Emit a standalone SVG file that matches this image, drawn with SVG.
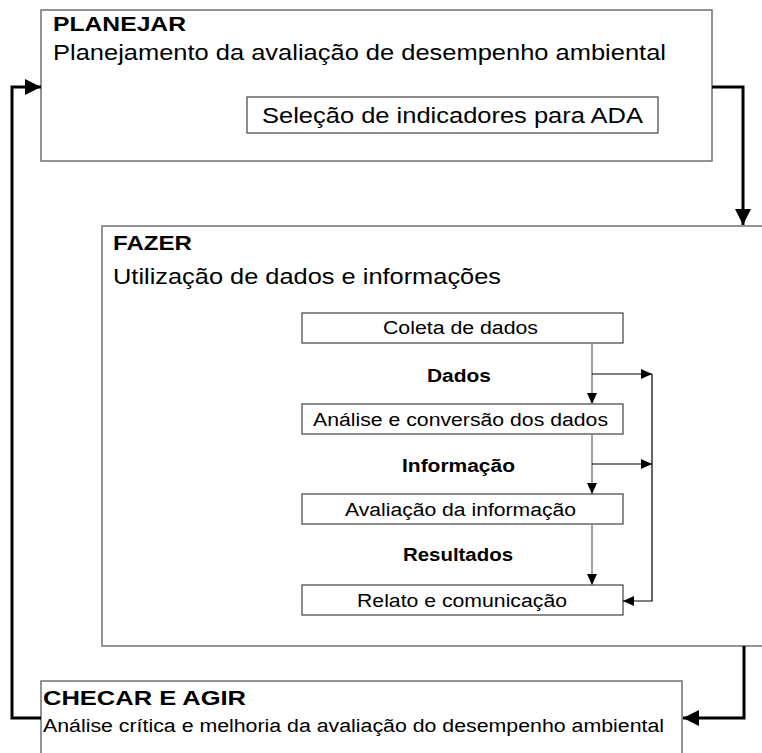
<svg xmlns="http://www.w3.org/2000/svg" width="762" height="753" viewBox="0 0 762 753">
<defs>
<style>
.box{fill:#fff;stroke:#707070;stroke-width:1.5}
.ibox{fill:#fff;stroke:#505050;stroke-width:1.3}
.t{font-family:"Liberation Sans",Arial,sans-serif;fill:#000}
.b{font-weight:bold}
.big{fill:none;stroke:#000;stroke-width:3}
.flow{fill:none;stroke:#808080;stroke-width:1.5}
.side{fill:none;stroke:#000;stroke-width:1.2}
</style>
<marker id="bh" markerUnits="userSpaceOnUse" markerWidth="16" markerHeight="16" viewBox="0 0 16 16" refX="16" refY="8" orient="auto"><path d="M0,0 L16,8 L0,16 Z" fill="#000"/></marker>
<marker id="sh" markerUnits="userSpaceOnUse" markerWidth="11" markerHeight="10" viewBox="0 0 11 10" refX="11" refY="5" orient="auto"><path d="M0,0 L11,5 L0,10 Z" fill="#000"/></marker>
</defs>
<g id="planejar">
<rect class="box" x="41" y="10" width="671" height="151"/>
<text class="t b" x="53" y="31" font-size="21" textLength="133" lengthAdjust="spacingAndGlyphs">PLANEJAR</text>
<text class="t" x="53" y="60" font-size="22" textLength="613" lengthAdjust="spacingAndGlyphs">Planejamento da avaliação de desempenho ambiental</text>
</g>
<g id="selecao">
<rect class="ibox" x="247" y="97" width="411" height="36"/>
<text class="t" x="262" y="123" font-size="22" textLength="381" lengthAdjust="spacingAndGlyphs">Seleção de indicadores para ADA</text>
</g>
<g id="fazer">
<rect class="box" x="102" y="226" width="700" height="420"/>
<text class="t b" x="113" y="250" font-size="21" textLength="79" lengthAdjust="spacingAndGlyphs">FAZER</text>
<text class="t" x="113" y="284" font-size="22" textLength="388" lengthAdjust="spacingAndGlyphs">Utilização de dados e informações</text>
</g>
<g id="coleta">
<rect class="ibox" x="302" y="313" width="321" height="30"/>
<text class="t" x="383" y="334" font-size="18" textLength="155" lengthAdjust="spacingAndGlyphs">Coleta de dados</text>
</g>
<g id="analise">
<rect class="ibox" x="302" y="404" width="321" height="30"/>
<text class="t" x="313" y="425.5" font-size="18" textLength="295" lengthAdjust="spacingAndGlyphs">Análise e conversão dos dados</text>
</g>
<g id="avaliacao">
<rect class="ibox" x="302" y="494" width="321" height="30"/>
<text class="t" x="345" y="515.5" font-size="18" textLength="231" lengthAdjust="spacingAndGlyphs">Avaliação da informação</text>
</g>
<g id="relato">
<rect class="ibox" x="302" y="585" width="321" height="30"/>
<text class="t" x="357" y="606.5" font-size="18" textLength="210" lengthAdjust="spacingAndGlyphs">Relato e comunicação</text>
</g>
<g id="checar">
<rect class="box" x="41" y="681" width="641" height="100"/>
<text class="t b" x="43" y="705" font-size="21" textLength="203" lengthAdjust="spacingAndGlyphs">CHECAR E AGIR</text>
<text class="t" x="43" y="732" font-size="18" textLength="621" lengthAdjust="spacingAndGlyphs">Análise crítica e melhoria da avaliação do desempenho ambiental</text>
</g>
<g id="labels">
<text class="t b" x="427" y="381.5" font-size="18" textLength="64" lengthAdjust="spacingAndGlyphs">Dados</text>
<text class="t b" x="402" y="471.5" font-size="18" textLength="113" lengthAdjust="spacingAndGlyphs">Informação</text>
<text class="t b" x="403" y="560.5" font-size="18" textLength="110" lengthAdjust="spacingAndGlyphs">Resultados</text>
</g>
<g id="connectors">
<path class="big" d="M712,87 H743 V225" marker-end="url(#bh)"/>
<path class="big" d="M744,646 V718 H683" marker-end="url(#bh)"/>
<path class="big" d="M41,718 H12 V87 H41" marker-end="url(#bh)"/>
<path class="flow" d="M592,343 V404" marker-end="url(#sh)"/>
<path class="flow" d="M592,434 V494" marker-end="url(#sh)"/>
<path class="flow" d="M592,524 V585" marker-end="url(#sh)"/>
<path class="side" d="M592,374 H652" marker-end="url(#sh)"/>
<path class="side" d="M592,464 H652" marker-end="url(#sh)"/>
<path class="side" d="M652,374 V601 H623" marker-end="url(#sh)"/>
</g>
</svg>
